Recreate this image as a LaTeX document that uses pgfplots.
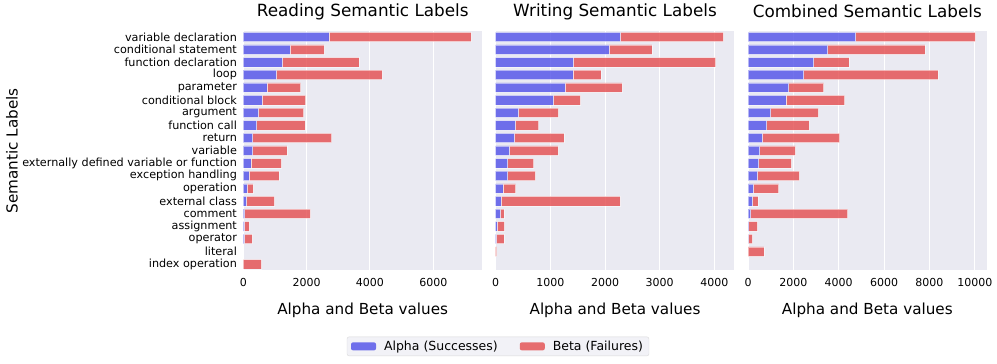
\documentclass[border=0pt]{standalone}
\usepackage{fontspec}
\setmainfont{DejaVu Sans}
\usepackage{pgfplots}
\usepackage{pgfplotstable}
\pgfplotsset{compat=1.18}
\definecolor{alphacol}{RGB}{79,79,232}
\definecolor{betacol}{RGB}{228,76,78}
\definecolor{panelbg}{HTML}{EAEAF2}
\newcommand{\legfont}{\fontsize{12.5bp}{14bp}\selectfont}

% idx alpha beta  (beta stacked after alpha)
\pgfplotstableread{
idx alpha beta
0 2700 4500
1 1480 1070
2 1230 2420
3 1040 3340
4 740 1070
5 590 1380
6 470 1435
7 420 1530
8 295 2495
9 295 1075
10 240 960
11 170 955
12 115 190
13 95 885
14 40 2075
15 30 150
16 30 245
17 0 0
18 0 570
}\reading
\pgfplotstableread{
idx alpha beta
0 2280 1885
1 2075 780
2 1420 2605
3 1410 515
4 1270 1045
5 1055 495
6 415 730
7 360 425
8 340 905
9 250 890
10 220 475
11 220 505
12 130 235
13 100 2175
14 85 65
15 25 135
16 10 140
17 0 15
18 0 0
}\writing
\pgfplotstableread{
idx alpha beta
0 4745 5285
1 3510 4285
2 2895 1555
3 2450 5920
4 1790 1545
5 1675 2585
6 1000 2100
7 820 1870
8 630 3410
9 515 1570
10 470 1440
11 410 1850
12 235 1115
13 190 250
14 115 4275
15 30 380
16 15 175
17 0 705
18 0 0
}\combined

\pgfplotsset{
  semstyle/.style={
    scale only axis, width=238.6bp, height=238.7bp,
    xbar stacked, bar width=0.74,
    y dir=reverse, ymin=-0.45, ymax=18.45, xmin=0,
    ytick={0,...,18},
    axis line style={draw=none},
    axis background/.style={fill=panelbg},
    xmajorgrids, grid style={white, line width=1bp},
    major tick length=0pt,
    tick label style={font=\fontsize{11bp}{13bp}\selectfont},
    xticklabel style={anchor=center, yshift=-12.5bp},
    yticklabel style={xshift=-3bp},
    /pgf/number format/assume math mode=true,
    /pgf/number format/1000 sep={},
    scaled x ticks=false,
    title style={at={(axis description cs:0.5,1.058)}, anchor=center,
      font=\fontsize{16.8bp}{19bp}\selectfont},
    xlabel={Alpha and Beta values},
    xlabel style={at={(axis description cs:0.5,-0.167)}, anchor=center,
      font=\fontsize{15.2bp}{17bp}\selectfont},
    anchor=south west,
  },
  abar/.style={fill=alphacol, fill opacity=0.8, draw=white, draw opacity=0.5, line width=0.5bp},
  bbar/.style={fill=betacol, fill opacity=0.8, draw=white, draw opacity=0.5, line width=0.5bp},
}

\begin{document}
\begin{tikzpicture}
\path (0,0) rectangle (997bp,361bp);

\begin{axis}[semstyle, at={(243.4bp,93.3bp)},
    title={Reading Semantic Labels},
    xmax=7540, xtick={0,2000,4000,6000},
    yticklabels={variable declaration, conditional statement, function declaration, loop, parameter, conditional block, argument, function call, return, variable, externally defined variable or function, exception handling, operation, external class, comment, assignment, operator, literal, index operation},
    yticklabel style={font=\fontsize{11.2bp}{13bp}\selectfont},
    ylabel={Semantic Labels},
    ylabel style={at={(axis description cs:-0.97,0.5)}, anchor=center,
      font=\fontsize{15.2bp}{17bp}\selectfont},
]
\addplot[abar] table[x=alpha, y=idx] {\reading};
\addplot[bbar] table[x=beta, y=idx] {\reading};
\end{axis}

\begin{axis}[semstyle, at={(495.7bp,93.3bp)},
    title={Writing Semantic Labels},
    xmax=4365, xtick={0,1000,2000,3000,4000},
    yticklabels={},
    legend style={at={(axis description cs:0.0096,-0.32)}, anchor=center,
      legend columns=2, draw=gray!30, fill=panelbg!60!white, rounded corners=2bp,
      inner xsep=4bp, inner ysep=2bp, font=\legfont,
      /tikz/every odd column/.append style={column sep=6bp},
      /tikz/every even column/.append style={column sep=20bp}},
    legend image code/.code={\fill[#1, draw=none] (0bp,-4bp) rectangle (25bp,4bp);},
]
\addplot[abar] table[x=alpha, y=idx] {\writing};
\addlegendentry{\legfont Alpha (Successes)}
\addplot[bbar] table[x=beta, y=idx] {\writing};
\addlegendentry{\legfont Beta (Failures)}
\end{axis}

\begin{axis}[semstyle, at={(748bp,93.3bp)},
    title={Combined Semantic Labels},
    xmax=10520, xtick={0,2000,4000,6000,8000,10000},
    yticklabels={},
]
\addplot[abar] table[x=alpha, y=idx] {\combined};
\addplot[bbar] table[x=beta, y=idx] {\combined};
\end{axis}
\end{tikzpicture}
\end{document}
